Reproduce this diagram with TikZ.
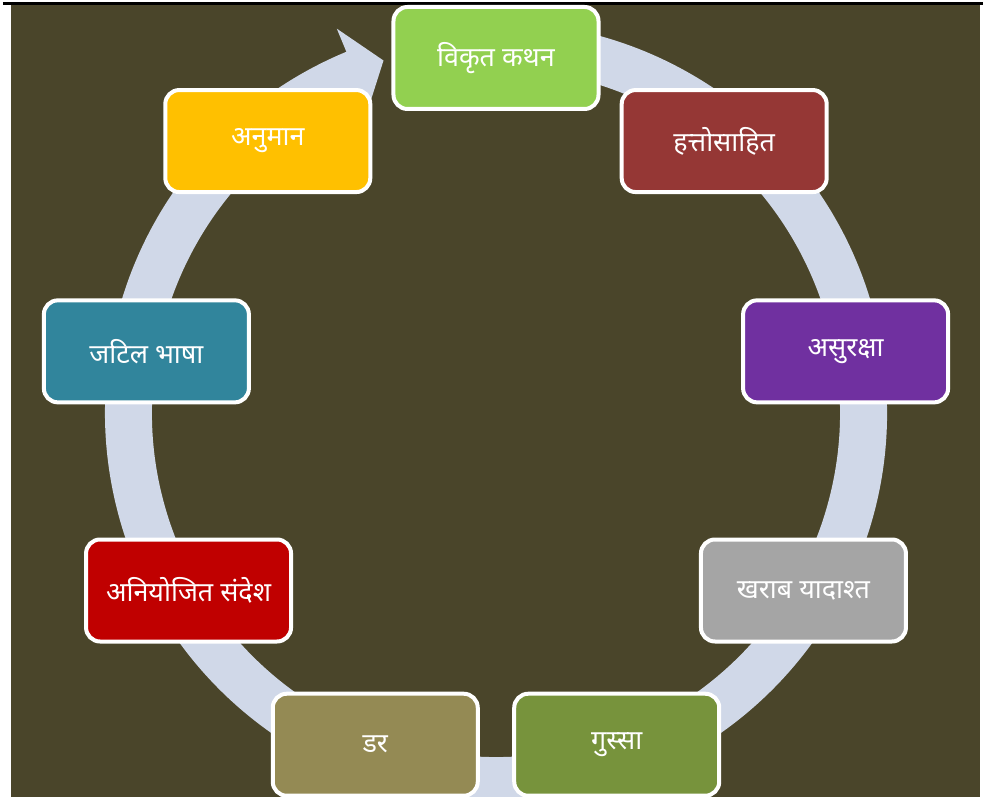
\documentclass[tikz,border=0pt]{standalone}
\usepackage{fontspec}
\newfontfamily\deva[Script=Devanagari]{Noto Sans}
\definecolor{olivebg}{HTML}{4A452A}
\definecolor{ringgrey}{HTML}{D0D8E8}
\definecolor{lime}{HTML}{92D050}
\definecolor{maroon}{HTML}{953735}
\definecolor{grape}{HTML}{7030A0}
\definecolor{silver}{HTML}{A5A5A5}
\definecolor{moss}{HTML}{77933C}
\definecolor{khaki}{HTML}{948A54}
\definecolor{crimson}{HTML}{C00000}
\definecolor{teal}{HTML}{31859C}
\definecolor{gold}{HTML}{FFC000}
\tikzset{
	card/.style={draw=white, line width=4bp, rounded corners=14bp,
		minimum width=205bp, minimum height=102bp, text=white,
		font=\deva\fontsize{27}{30}\selectfont}
}

\begin{document}
\begin{tikzpicture}[x=1bp, y=1bp]
		\useasboundingbox (-496,-384) rectangle (487,413);
		\fill [olivebg] (-485,-384) rectangle (484,408);
		\draw [line width=3bp] (-493,409.5) -- (487,409.5);

		% ring with its head
		\fill [ringgrey] (100:391bp) arc [start angle=100, end angle=-247.5, radius=391bp]
		-- (112.5:416bp) -- (107.7:370bp) -- (112.5:332bp) -- (112.5:344bp)
		arc [start angle=-247.5, end angle=100, radius=344bp] -- cycle;

		\node (kathan) [card, fill=lime] at (90:355bp) {विकृत कथन};
		\node (hatto) [card, fill=maroon] at (50:355bp) {हत्तोसाहित};
		\node (asuraksha) [card, fill=grape] at (10:355bp) {असुरक्षा};
		\node (yaadasht) [card, fill=silver] at (-30:355bp) {खराब यादाश्त};
		\node (gussa) [card, fill=moss] at (-70:353bp) {गुस्सा};
		\node (dar) [card, fill=khaki] at (-110:353bp) {डर};
		\node (sandesh) [card, fill=crimson] at (-150:355bp) {अनियोजित संदेश};
		\node (bhasha) [card, fill=teal] at (170:355bp) {जटिल भाषा};
		\node (anumaan) [card, fill=gold] at (130:355bp) {अनुमान};
	\end{tikzpicture}
\end{document}
